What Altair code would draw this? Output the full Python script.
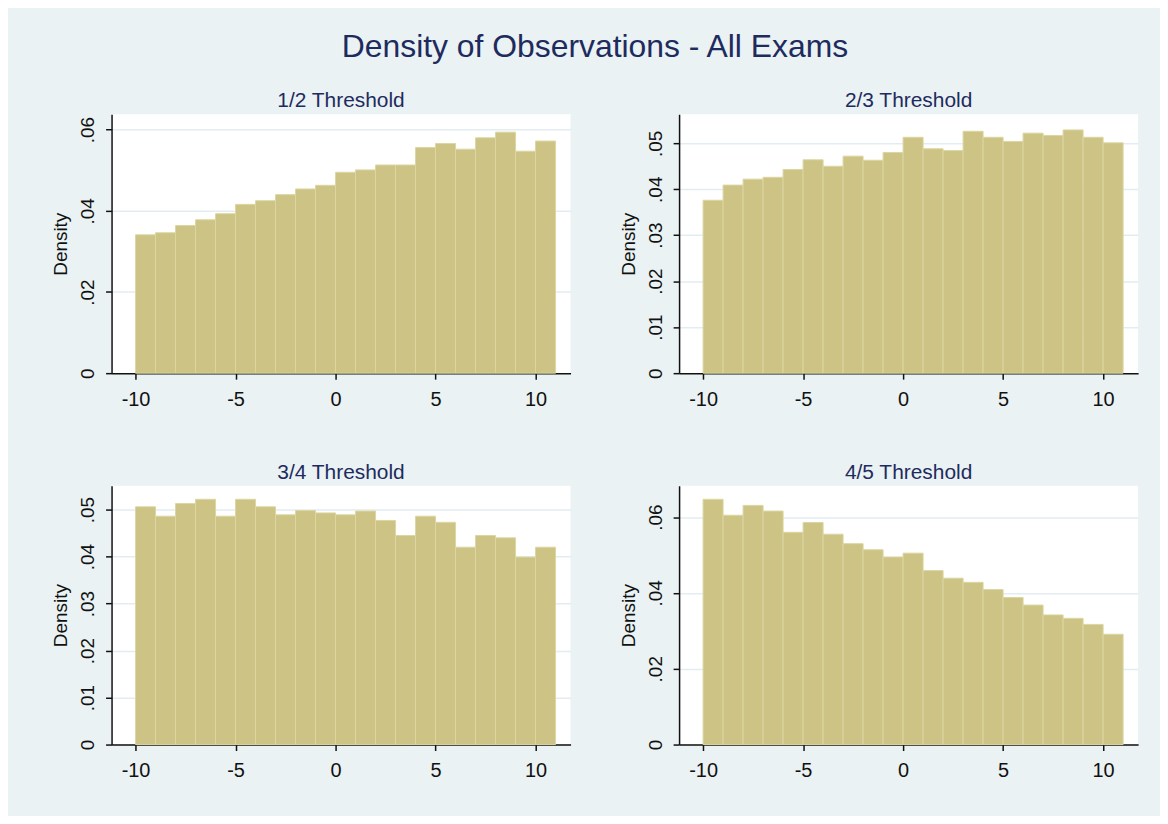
import altair as alt
import pandas as pd

bin_starts = list(range(-10, 11))  # 21 bins of width 1, from -10 to 11

dens_12 = [0.0341, 0.0346, 0.0364, 0.0378, 0.0393, 0.0416, 0.0425, 0.0440, 0.0454, 0.0463,
           0.0495, 0.0501, 0.0513, 0.0513, 0.0556, 0.0566, 0.0552, 0.0580, 0.0594, 0.0547, 0.0572]
dens_23 = [0.0376, 0.0409, 0.0422, 0.0426, 0.0443, 0.0464, 0.0450, 0.0472, 0.0463, 0.0480,
           0.0513, 0.0488, 0.0484, 0.0526, 0.0513, 0.0504, 0.0522, 0.0517, 0.0529, 0.0513, 0.0501]
dens_34 = [0.0506, 0.0486, 0.0513, 0.0522, 0.0486, 0.0522, 0.0506, 0.0489, 0.0498, 0.0493,
           0.0489, 0.0497, 0.0477, 0.0445, 0.0486, 0.0473, 0.0420, 0.0445, 0.0440, 0.0399, 0.0420]
dens_45 = [0.0647, 0.0605, 0.0631, 0.0616, 0.0560, 0.0586, 0.0555, 0.0530, 0.0514, 0.0495,
           0.0505, 0.0459, 0.0439, 0.0428, 0.0409, 0.0388, 0.0368, 0.0342, 0.0333, 0.0317, 0.0291]

panel_titles = ["1/2 Threshold", "2/3 Threshold", "3/4 Threshold", "4/5 Threshold"]
panel_dens = [dens_12, dens_23, dens_34, dens_45]
y_ticks = [[0, 0.02, 0.04, 0.06],
           [0, 0.01, 0.02, 0.03, 0.04, 0.05],
           [0, 0.01, 0.02, 0.03, 0.04, 0.05],
           [0, 0.02, 0.04, 0.06]]
y_max = [0.0638, 0.0563, 0.0551, 0.0683]
x_ticks = [-10, -5, 0, 5, 10]

FONT = "Liberation Sans"
NAVY = "#1E2B5E"
BAR = "#CCC384"
BAR_EDGE = "#DCD6A2"
GRID = "#E3EDF1"
BG = "#EAF2F3"

W, H = 461, 260


def panel(i):
    df = pd.DataFrame({
        "start": bin_starts,
        "end": [b + 1 for b in bin_starts],
        "density": panel_dens[i],
    })
    return alt.Chart(df).mark_rect(
        color=BAR, stroke=BAR_EDGE, strokeWidth=1
    ).encode(
        x=alt.X("start:Q",
                scale=alt.Scale(domain=[-11.2, 11.75], nice=False, zero=False),
                axis=alt.Axis(values=x_ticks, title=None, grid=False,
                              labelExpr="'' + datum.value",
                              labelFontSize=20, labelColor="#111111", labelFont=FONT,
                              labelPadding=10, tickSize=6, tickColor="#111111",
                              domainColor="#111111", domainWidth=1.5, tickWidth=1.5,
                              labelFlush=False)),
        x2="end:Q",
        y=alt.Y("density:Q",
                scale=alt.Scale(domain=[0, y_max[i]], nice=False),
                axis=alt.Axis(values=y_ticks[i], title="Density",
                              labelExpr="datum.value == 0 ? '0' : substring(format(datum.value, '.2f'), 1)",
                              labelAngle=-90, labelAlign="center", labelBaseline="bottom",
                              labelFontSize=19, labelColor="#111111", labelFont=FONT,
                              labelPadding=8, tickSize=6, tickColor="#111111", tickWidth=1.5,
                              domainColor="#111111", domainWidth=1.5,
                              grid=True, gridColor=GRID, gridWidth=1.5,
                              titleFontSize=19, titleFont=FONT, titleColor="#111111",
                              titleFontWeight="normal", titlePadding=8,
                              labelFlush=False)),
    ).properties(
        width=W, height=H,
        title=alt.TitleParams(panel_titles[i], fontSize=21, font=FONT, color=NAVY,
                              fontWeight="normal", anchor="middle", offset=3),
    )


chart = alt.concat(
    panel(0), panel(1), panel(2), panel(3),
    columns=2,
    spacing=alt.RowColnumber(row=113, column=109),
    bounds="flush",
).properties(
    title=alt.TitleParams("Density of Observations - All Exams", fontSize=32, font=FONT,
                          color=NAVY, fontWeight="normal", anchor="middle", offset=27),
    padding={"left": 44, "top": 21, "right": 22, "bottom": 34},
).configure(
    background=BG,
).configure_view(
    fill="white", stroke=None,
)

chart.save("out.html", embed_options={"renderer": "svg", "actions": False})
